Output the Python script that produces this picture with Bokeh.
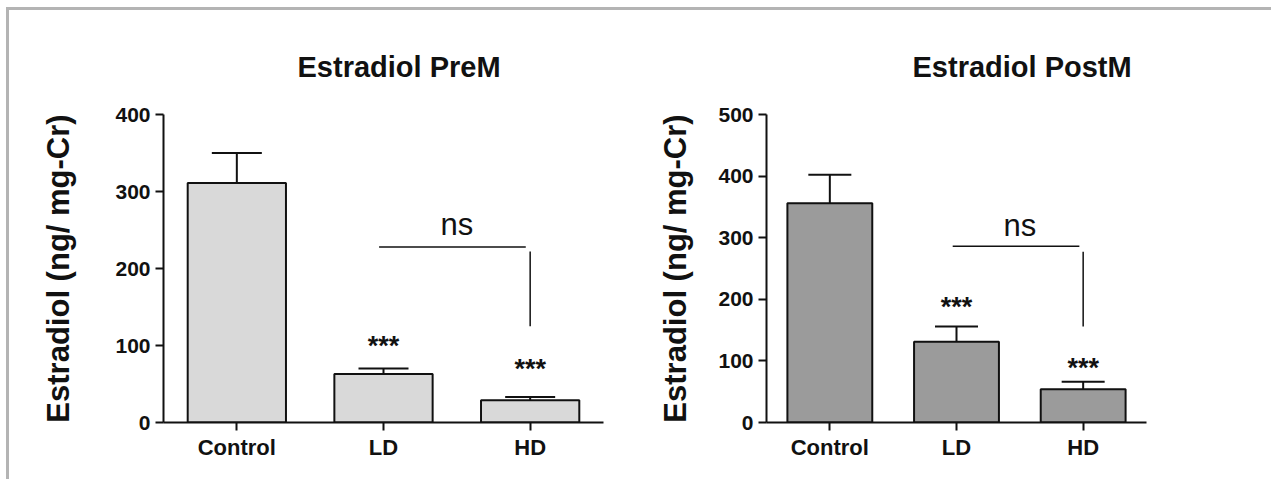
from bokeh.plotting import figure
from bokeh.layouts import row, column
from bokeh.models import ColumnDataSource, Whisker, TeeHead, Spacer
from bokeh.core.properties import value
from bokeh.embed import file_html
from bokeh.resources import INLINE

# ---- data ----
groups = ["Control", "LD", "HD"]

pre_mean = [311, 63, 29]
pre_err = [39, 7, 4]
pre_stars = ["", "***", "***"]
pre_star_y = [0, 100, 70]
pre_ns_line_y = 228
pre_ns_drop_y = [222, 125]
pre_ns_text_y = 257

post_mean = [356, 131, 54]
post_err = [46, 25, 12]
post_stars = ["", "***", "***"]
post_star_y = [0, 188, 89]
post_ns_line_y = 286
post_ns_drop_y = [277, 156]
post_ns_text_y = 320

FONT = "Liberation Sans"


def make_panel(title, means, errs, stars, star_y, ns_y, drop_y, ns_text_y,
               ymax, fill, width, mb_left, mb_right, title_offset,
               label_standoff, cap):
    p = figure(x_range=groups, y_range=(0, ymax), width=width, height=469,
               output_backend="svg", toolbar_location=None,
               min_border_left=mb_left, min_border_right=mb_right,
               min_border_top=104, min_border_bottom=57)
    p.title.text = title
    p.title.align = "left"
    p.title.offset = title_offset
    p.title.text_font = FONT
    p.title.text_font_size = "29px"
    p.title.text_font_style = "bold"
    p.title.text_color = "#111111"
    p.title.standoff = 64

    p.outline_line_color = None
    p.xgrid.grid_line_color = None
    p.ygrid.grid_line_color = None
    p.background_fill_color = "white"
    p.border_fill_color = "white"

    src = ColumnDataSource(dict(x=groups, top=means,
                                upper=[m + e for m, e in zip(means, errs)]))
    p.vbar(x="x", top="top", width=0.67, source=src, fill_color=fill,
           line_color="#111111", line_width=2)
    w = Whisker(source=src, base="x", lower="top", upper="upper",
                line_color="#111111", line_width=2,
                upper_head=TeeHead(size=cap, line_color="#111111", line_width=2),
                lower_head=None, level="underlay")
    p.add_layout(w)

    # significance stars
    sx = [g for g, s in zip(groups, stars) if s]
    sy = [y for y, s in zip(star_y, stars) if s]
    st = [s for s in stars if s]
    p.text(x=sx, y=sy, text=st, text_align="center", text_baseline="middle",
           text_font=value(FONT), text_font_size="27px",
           text_font_style="bold", text_color="#111111")

    # ns bracket
    p.segment(x0=[("LD", -0.03)], y0=[ns_y], x1=[("HD", -0.03)], y1=[ns_y],
              line_color="#111111", line_width=1.5)
    p.segment(x0=["HD"], y0=[drop_y[0]], x1=["HD"], y1=[drop_y[1]],
              line_color="#111111", line_width=1.5)
    p.text(x=[("LD", 0.5)], y=[ns_text_y], text=["ns"], text_align="center",
           text_baseline="alphabetic", text_font=value(FONT),
           text_font_size="31px", text_color="#111111")

    for ax in (p.xaxis[0], p.yaxis[0]):
        ax.axis_line_color = "#111111"
        ax.axis_line_width = 2
        ax.major_tick_line_color = "#111111"
        ax.major_tick_line_width = 2
        ax.major_tick_out = 8
        ax.major_tick_in = 0
        ax.minor_tick_line_color = None
        ax.major_label_text_font = FONT
        ax.major_label_text_font_style = "bold"
        ax.major_label_text_color = "#111111"
    p.xaxis.major_label_text_font_size = "22px"
    p.xaxis.major_label_standoff = 4
    p.yaxis.major_label_text_font_size = "21px"
    p.yaxis.major_label_standoff = 5
    p.yaxis.ticker.desired_num_ticks = 5
    p.yaxis.axis_label = "Estradiol (ng/ mg-Cr)"
    p.yaxis.axis_label_text_font = FONT
    p.yaxis.axis_label_text_font_size = "31px"
    p.yaxis.axis_label_text_font_style = "bold"
    p.yaxis.axis_label_text_color = "#111111"
    p.yaxis.axis_label_standoff = label_standoff
    return p


p1 = make_panel("Estradiol PreM", pre_mean, pre_err, pre_stars, pre_star_y,
                pre_ns_line_y, pre_ns_drop_y, pre_ns_text_y, 400, "#d9d9d9",
                629, 154, 35, 134, 36, 50)
p2 = make_panel("Estradiol PostM", post_mean, post_err, post_stars, post_star_y,
                post_ns_line_y, post_ns_drop_y, post_ns_text_y, 500, "#9b9b9b",
                633, 128, 125, 146, 22, 43)

framed = row(p1, p2, styles={"border-top": "3px solid #b4b4b4",
                             "border-left": "3px solid #b4b4b4"})
layout = column(Spacer(width=1271, height=7),
                row(Spacer(width=6, height=472), framed))

open("out.html", "w").write(file_html(layout, INLINE))
